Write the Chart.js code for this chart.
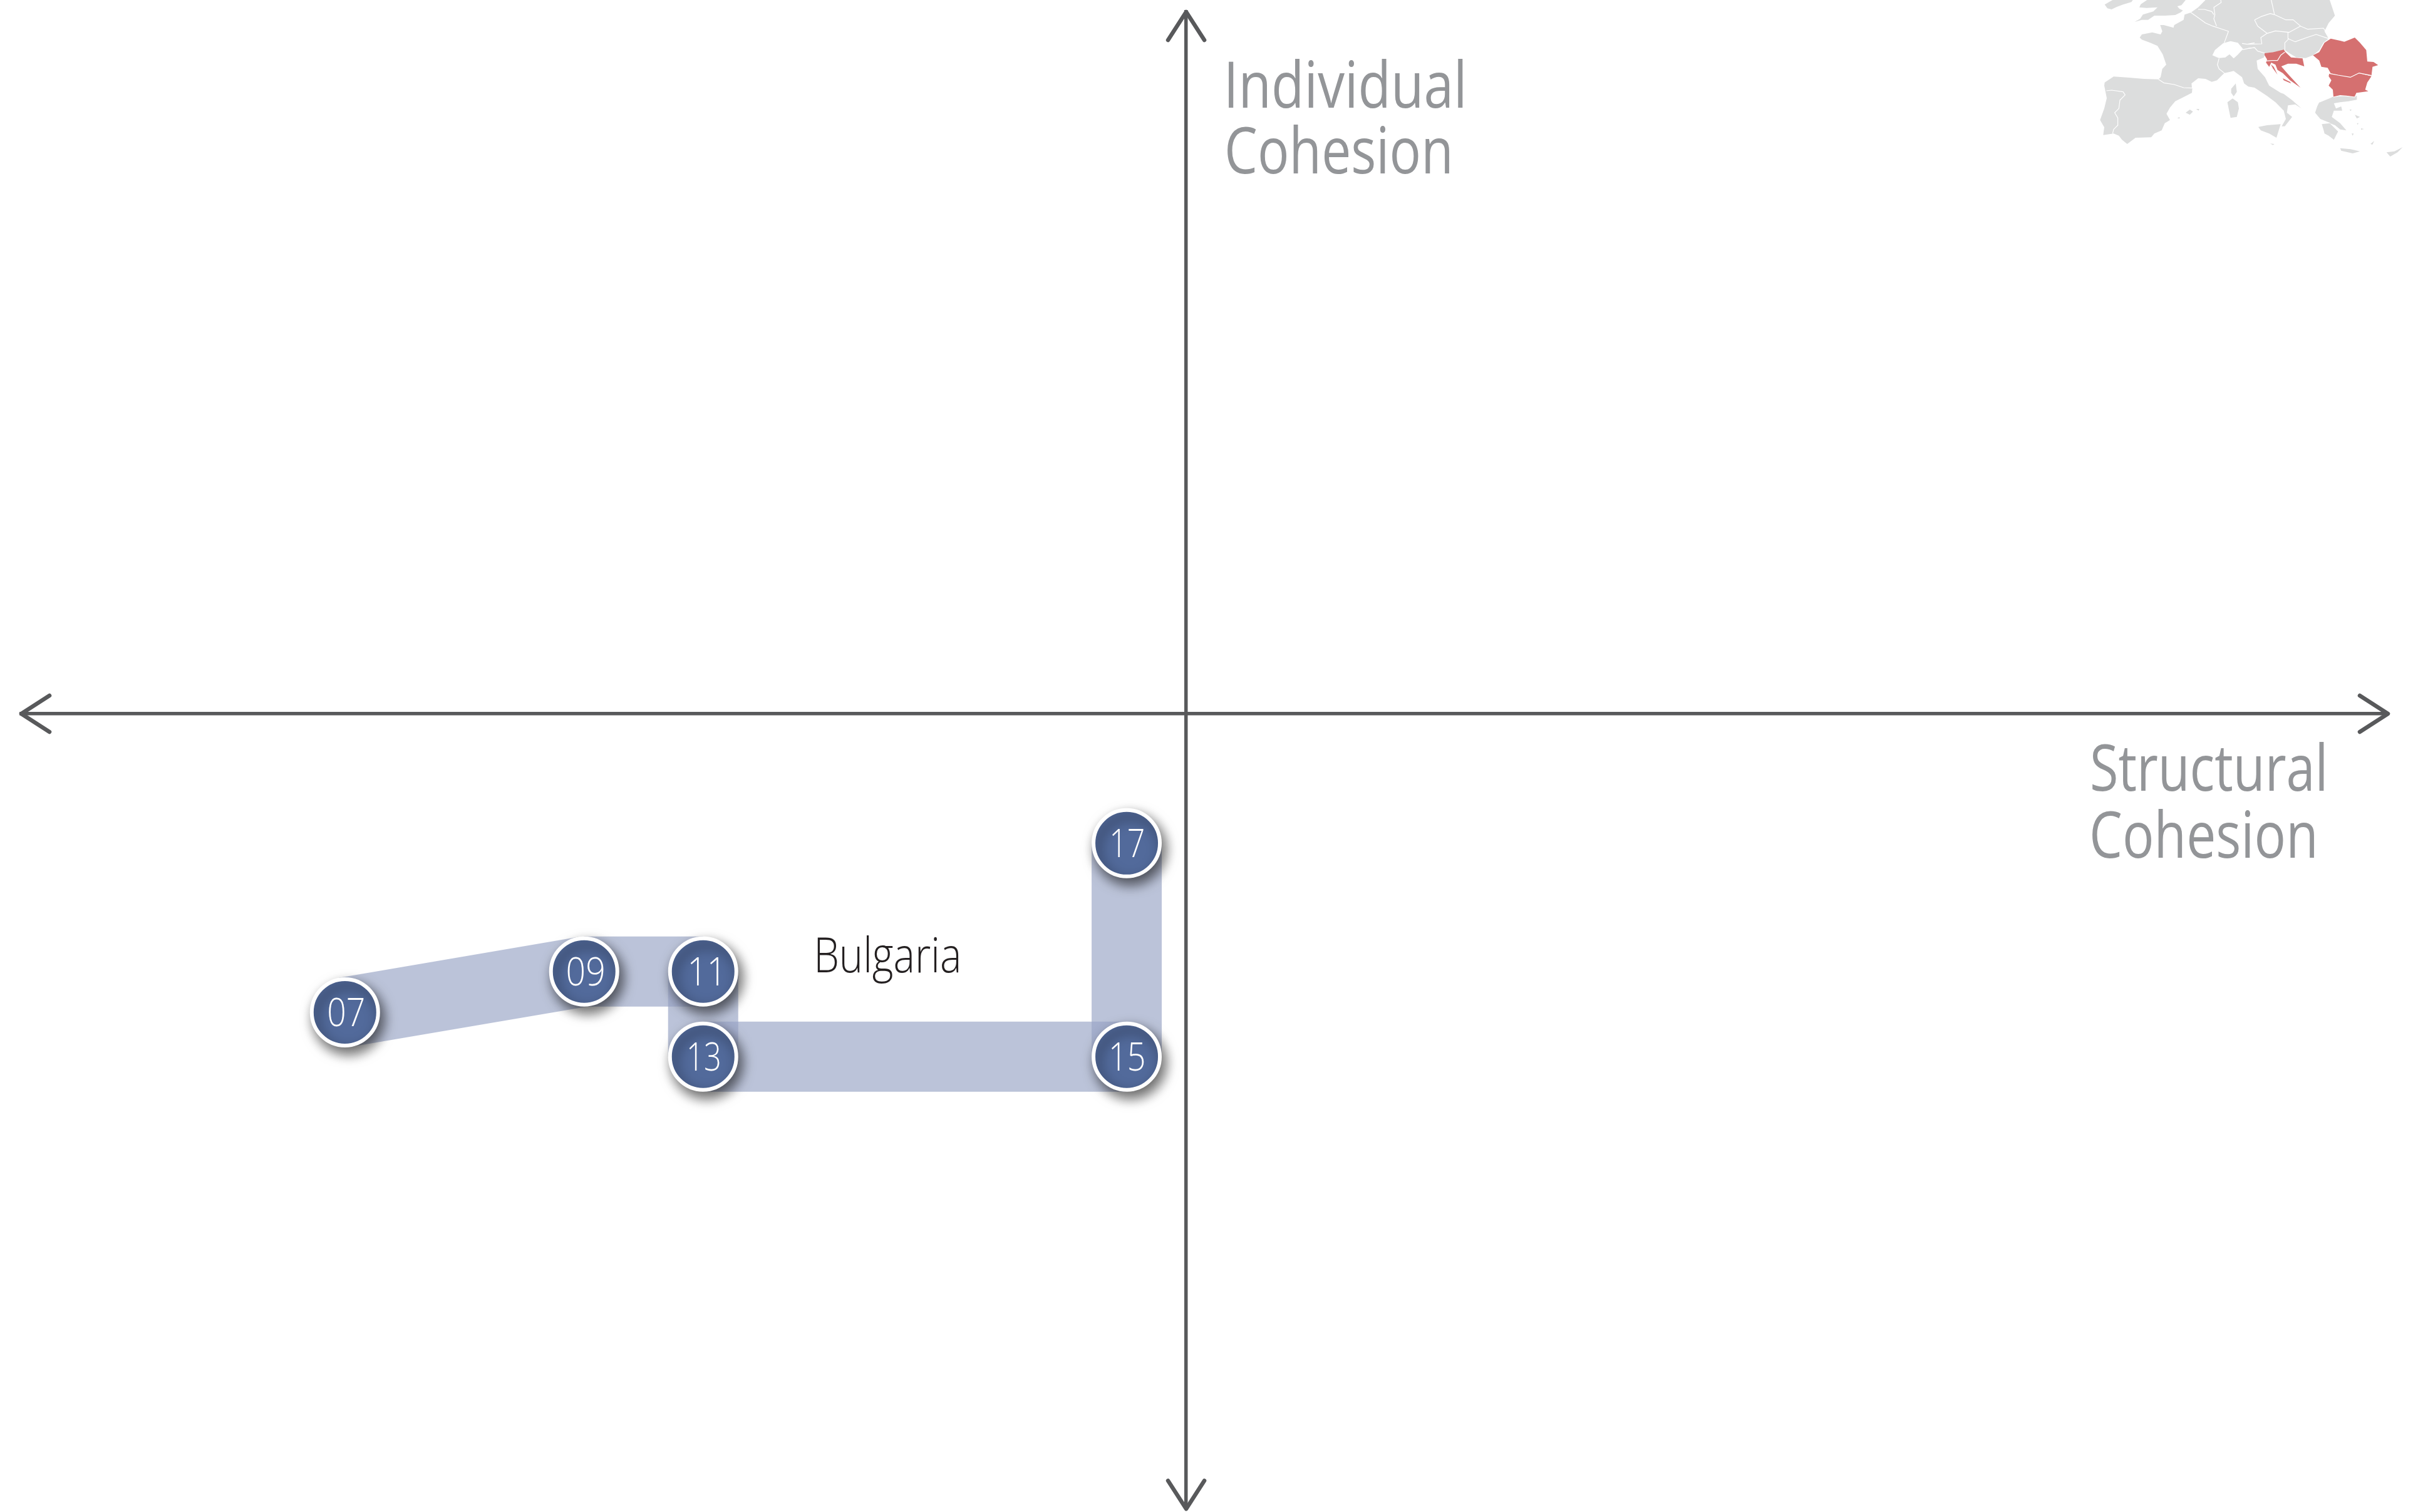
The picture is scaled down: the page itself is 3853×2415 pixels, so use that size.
<!DOCTYPE html>
<html>
<head>
<meta charset="utf-8">
<title>Bulgaria – Structural and Individual Cohesion</title>
<style>html,body{margin:0;padding:0;background:#fff}canvas{display:block}</style>
<script src="https://cdn.jsdelivr.net/npm/chart.js@4"></script>
</head>
<body>
<canvas id="c" width="3853" height="2415"></canvas>
<script>
const years = ['07','09','11','13','15','17'];
const structuralCohesion = [-72.1,-51.6,-41.4,-41.4,-5.1,-5.1];
const individualCohesion = [-25.6,-22.1,-22.1,-29.4,-29.4,-11.1];
const countryName = 'Bulgaria';
const yAxisTitle = ['Individual','Cohesion'];
const xAxisTitle = ['Structural','Cohesion'];

const labelWidths = [56,57,44,48,52,50];

const FONT = '"Open Sans","Noto Sans",sans-serif';
function fitText(ctx,text,x,base,width,size,weight,color,centred){
  ctx.save();
  ctx.font = weight+' '+size+'px '+FONT;
  ctx.fillStyle = color;
  ctx.textAlign = 'left';
  ctx.textBaseline = 'alphabetic';
  const m = ctx.measureText(text);
  const w = m.actualBoundingBoxRight + m.actualBoundingBoxLeft;
  const s = width / w;
  const left = centred ? x - width/2 : x;
  ctx.translate(left + m.actualBoundingBoxLeft*s, base);
  ctx.scale(s,1);
  ctx.fillText(text,0,0);
  ctx.restore();
}

/* inset map: hand-traced decoration, in 3x-zoom units from (3340,0) */
const O = 750;
function shift(pts){return pts.map(p=>[p[0]+O,p[1]]);}
const land = [
 [[62,22],[100,0],[197,0],[190,10],[150,22],[120,33],[95,45],[75,40]],
 [[265,0],[235,20],[228,35],[262,38],[315,35],[295,55],[245,70],[232,90],[205,105],[240,95],[270,95],[300,75],[350,75],[400,72],[425,60],[437,50],[420,42],[410,30],[430,25],[450,0]],
 [[475,60],[445,70],[440,95],[395,120],[392,133],[345,120],[328,120],[338,150],[330,165],[290,155],[240,165],[230,180],[240,190],[280,205],[315,220],[340,260],[357,310],[338,330],[330,370],[320,380],[345,397],[395,405],[440,420],[480,422],[478,400],[510,375],[545,378],[575,392],[600,385],[635,350],[610,330],[602,310],[610,280],[580,265],[600,235],[635,205],[655,150],[610,135],[580,125],[545,110],[510,85]],
 [[62,395],[105,367],[180,372],[250,378],[320,380],[345,397],[395,405],[440,420],[482,422],[480,445],[430,470],[400,485],[375,515],[358,545],[375,575],[350,590],[335,625],[300,640],[285,658],[210,660],[170,690],[145,670],[130,650],[105,640],[55,647],[60,610],[40,575],[60,520],[72,470],[60,410]],
 [[450,540],[470,525],[485,535],[470,550]],[[500,522],[515,522],[512,530]],[[410,567],[420,560],[422,568]],
 [[668,425],[690,400],[695,440],[680,462],[668,445]],
 [[650,490],[675,472],[700,490],[705,520],[695,560],[665,565],[658,530]],
 [[475,60],[510,35],[545,0],[1140,0],[1165,75],[1135,110],[1115,150],[1135,185],[1110,205],[1090,240],[1060,265],[1025,278],[980,275],[955,260],[925,240],[900,245],[830,255],[825,275],[790,290],[795,330],[830,370],[850,410],[905,445],[920,450],[960,480],[1005,520],[975,500],[940,505],[935,540],[960,560],[925,605],[910,605],[930,570],[920,530],[880,490],[840,460],[780,420],[750,415],[730,400],[720,370],[680,340],[660,345],[635,350],[610,330],[602,310],[610,280],[580,265],[600,235],[635,205],[655,150],[610,135],[580,125],[545,110],[510,85]],
 shift([[48,608],[90,600],[155,595],[135,660],[100,640],[60,625]]),
 shift([[105,688],[125,690],[118,695]]),
 shift([[340,490],[400,465],[470,458],[520,460],[520,478],[480,485],[440,490],[410,495],[420,520],[445,510],[450,530],[410,530],[400,560],[440,590],[470,625],[440,620],[415,600],[390,590],[430,630],[410,670],[385,650],[365,640],[360,620],[352,595],[395,590],[345,570],[320,540],[330,510]]),
 shift([[440,710],[490,715],[535,725],[500,735],[445,722]]),
 shift([[662,730],[700,725],[740,705],[715,730],[680,750]]),
 shift([[510,550],[535,560],[520,568]]),shift([[585,690],[603,675],[595,693]]),
 shift([[485,525],[495,525],[490,532]]),shift([[520,590],[528,590],[524,598]]),shift([[495,640],[505,640],[500,650]]),shift([[540,615],[555,618],[540,622]])
];
const swiss = [[578,265],[590,240],[630,207],[665,197],[700,205],[725,235],[700,262],[680,280],[660,260],[640,275],[610,278]];
const borders = [
 [[475,60],[510,85],[545,110],[580,125],[610,135],[655,150],[635,205]],
 [[618,0],[620,12],[585,35],[590,70],[585,90],[598,125]],
 [[510,45],[540,45],[575,55],[585,70]],
 [[320,380],[345,397],[395,405],[440,420],[482,422]],
 [[610,280],[602,310],[610,330],[635,350]],
 [[70,435],[95,432],[150,440],[160,455],[135,480],[130,520],[110,540],[125,565],[125,600],[105,620],[100,640]],
 [[720,208],[745,212],[780,205]],[[722,238],[750,232],[780,228]],
 shift([[110,0],[125,68]]),
 shift([[30,95],[60,80],[105,65],[125,70],[180,95],[215,95],[250,125],[195,155],[130,148],[90,160],[45,125],[30,95]]),
 shift([[250,125],[285,140],[360,135],[370,150]]),
 shift([[190,155],[190,185],[225,200],[280,180],[325,165],[385,185]]),
 shift([[90,160],[60,180],[65,210],[0,212]]),
 shift([[195,185],[175,205],[175,240]]),
 shift([[0,232],[30,228],[45,245],[80,255]]),
 shift([[340,490],[400,465]])
];
const redAreas = [
 shift([[310,265],[340,250],[365,205],[395,185],[440,195],[460,200],[510,180],[535,205],[565,240],[570,295],[600,297],[622,312],[595,320],[590,362],[530,350],[490,370],[430,360],[395,352],[380,325],[350,320],[340,290]]),
 shift([[388,352],[430,360],[490,370],[530,350],[590,365],[570,395],[560,430],[575,437],[520,445],[510,465],[470,460],[440,458],[408,465],[405,430],[385,410],[398,385],[385,365]]),
 shift([[78,255],[120,250],[170,238],[178,250],[205,275],[260,280],[268,318],[230,305],[190,305],[158,318],[190,355],[250,420],[200,385],[165,350],[140,335],[130,310],[110,300],[100,320],[85,300],[90,285],[78,265]]),
 shift([[165,375],[200,392],[205,400],[170,385]]),
 shift([[108,308],[122,320],[140,358],[118,328]])
];
const redBorders = [
 shift([[388,352],[430,360],[490,370],[530,350],[590,362]]),
 shift([[85,292],[115,290],[140,290],[155,265],[175,250]]),
 shift([[408,465],[440,458],[470,460],[510,465],[520,445]])
];
function poly(ctx,pts,close){
  ctx.beginPath();
  pts.forEach((p,i)=> i?ctx.lineTo(p[0],p[1]):ctx.moveTo(p[0],p[1]));
  if(close) ctx.closePath();
}
const mapPlugin = {
  id:'insetMap',
  beforeDraw(chart){
    const ctx = chart.ctx;
    ctx.save();
    ctx.translate(3340,0); ctx.scale(1/3,1/3);
    ctx.lineJoin='round';
    ctx.fillStyle='#DCDDDD';
    land.forEach(p=>{poly(ctx,p,true);ctx.fill();});
    ctx.fillStyle='#fff';poly(ctx,swiss,true);ctx.fill();
    ctx.strokeStyle='#fff';ctx.lineWidth=3.5;
    borders.forEach(p=>{poly(ctx,p,false);ctx.stroke();});
    ctx.fillStyle='#D57070';
    redAreas.forEach(p=>{poly(ctx,p,true);ctx.fill();});
    redBorders.forEach(p=>{poly(ctx,p,false);ctx.stroke();});
    ctx.restore();
  }
};

const arrowPlugin = {
  id:'axisArrows',
  beforeDatasetsDraw(chart){
    const ctx=chart.ctx, x=chart.scales.x, y=chart.scales.y;
    const cx=x.getPixelForValue(0), cy=y.getPixelForValue(0);
    const a=chart.chartArea, alen=45, aw=29;
    ctx.save();
    ctx.strokeStyle='#58595B';ctx.lineWidth=6.5;ctx.lineCap='round';ctx.lineJoin='round';
    [[[a.left+alen,cy-aw],[a.left,cy],[a.left+alen,cy+aw]],
     [[a.right-alen,cy-aw],[a.right,cy],[a.right-alen,cy+aw]],
     [[cx-aw,a.top+alen],[cx,a.top],[cx+aw,a.top+alen]],
     [[cx-aw,a.bottom-alen],[cx,a.bottom],[cx+aw,a.bottom-alen]]
    ].forEach(p=>{poly(ctx,p,false);ctx.stroke();});
    ctx.restore();
  }
};

const textPlugin = {
  id:'chartText',
  afterDatasetsDraw(chart){
    const ctx=chart.ctx;
    const grey='#939598';
    fitText(ctx,yAxisTitle[0],1962,172,374,103,400,grey);
    fitText(ctx,yAxisTitle[1],1960,277,354,103,400,grey);
    fitText(ctx,xAxisTitle[0],3341,1263,370,103,400,grey);
    fitText(ctx,xAxisTitle[1],3341,1370,354,103,400,grey);
    fitText(ctx,countryName,1305,1553,225,78,300,'#231F20');
    const meta=chart.getDatasetMeta(chart.data.datasets.length-1);
    meta.data.forEach((pt,i)=>{
      fitText(ctx,years[i],pt.x+2,pt.y+22,labelWidths[i],63,300,'#fff',true);
    });
  }
};

const shadowPlugin = {
  id:'markerShadow',
  beforeDatasetDraw(chart,args){
    if(args.index!==chart.data.datasets.length-1) return;
    const c=chart.ctx;c.save();
    c.shadowColor='rgba(0,0,0,0.6)';c.shadowBlur=20;c.shadowOffsetX=6;c.shadowOffsetY=10;
  },
  afterDatasetDraw(chart,args){
    if(args.index!==chart.data.datasets.length-1) return;
    chart.ctx.restore();
  }
};

const points = years.map((_,i)=>({x:structuralCohesion[i],y:individualCohesion[i]}));
const datasets = [];
for(let i=0;i<points.length-1;i++){
  datasets.push({
    label:years[i]+'-'+years[i+1],
    data:[points[i],points[i+1]],
    showLine:true,
    borderColor:'rgba(154,165,198,0.67)',
    borderWidth:112,
    borderCapStyle:'butt',
    pointRadius:0,
    tension:0,
    clip:false,
    order:10-i
  });
}
datasets.push({
  label:'Bulgaria',
  data:points,
  showLine:false,
  pointRadius:53,
  pointHoverRadius:53,
  pointBackgroundColor:'#526A9B',
  pointBorderColor:'#fff',
  pointBorderWidth:6,
  clip:false,
  order:0
});

new Chart(document.getElementById('c'),{
  type:'scatter',
  data:{datasets},
  plugins:[mapPlugin,arrowPlugin,shadowPlugin,textPlugin],
  options:{
    responsive:false,
    animation:false,
    events:[],
    layout:{autoPadding:false,padding:{left:34,right:40,top:19,bottom:5}},
    plugins:{legend:{display:false},tooltip:{enabled:false},title:{display:false}},
    scales:{
      x:{type:'linear',min:-99.84,max:103.0,position:{y:0},
         grid:{display:false},ticks:{display:false},
         border:{display:true,color:'#58595B',width:5.5}},
      y:{type:'linear',min:-68.17,max:60.17,position:{x:0},
         grid:{display:false},ticks:{display:false},
         border:{display:true,color:'#58595B',width:5.5}}
    }
  }
});
</script>
</body>
</html>
